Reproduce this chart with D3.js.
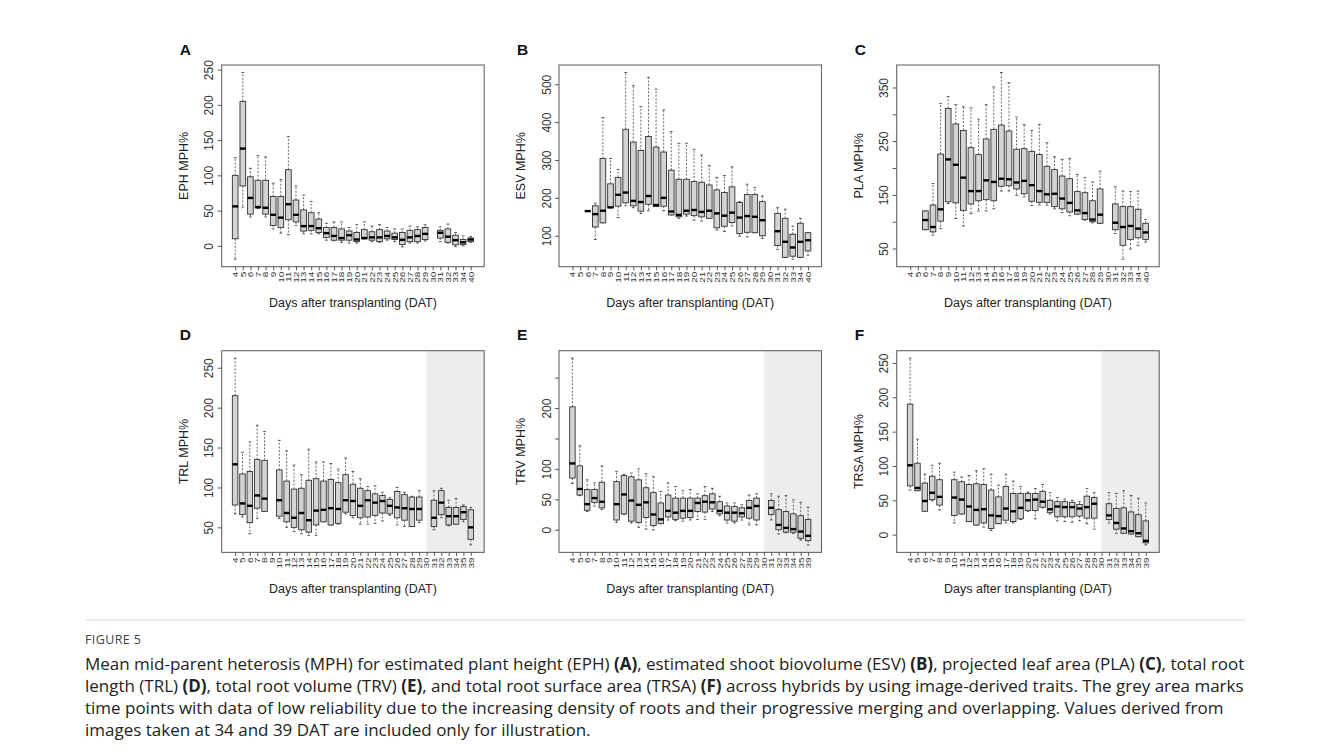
<!DOCTYPE html>
<html>
<head>
<meta charset="utf-8">
<script src="https://cdn.jsdelivr.net/npm/d3@7"></script>
<style>
  body { margin: 0; background: #fff; }
  svg text { font-family: "Liberation Sans", Arial, sans-serif; }
  svg text.cap { font-family: "Open Sans", "Liberation Sans", sans-serif; }
</style>
</head>
<body>
<svg id="fig" width="1330" height="751"></svg>
<script>
// x tick labels (days after transplanting)
const topDays = ["4","5","6","7","8","9","10","11","12","13","14","15","16","17","18","19","20",
  "21","22","23","24","25","26","27","28","29","30","31","32","33","34","40"];
const bottomDays = ["4","5","6","7","8","9","10","11","12","13","14","15","16","17","18","19","20",
  "21","22","23","24","25","26","27","28","29","30","31","32","33","34","35","39"];

// box stats per day: [lower whisker, Q1, median, Q3, upper whisker], null = no data
const eph = [[-19,10,56,100,125],[55,85,138,205,246],[41,45,68,98,110],[53,54,55,93,128],[41,45,54,93,126],
  [24,29,44,70,89],[18,26,40,70,94],[16,37,59,108,155],[29,34,44,65,85],[17,21,28,51,72],[17,22,28,47,63],
  [17,19,25,38,47],[8,12,18,26,32],[7,8,14,26,34],[5,8,11,24,34],[4,8,15,21,26],[4,6,9,19,30],[10,10,11,23,34],
  [6,8,12,20,28],[5,6,12,23,30],[8,10,14,21,26],[6,9,12,18,24],[-1.5,2,8.5,19,24],[4,6,12,22,28],[4,6,14,23,27],
  [7,9,17,26,30],null,[6,11,18.5,22,27],[4,5,13,24,31],[-1,1.5,8,15,19],[0,2,5,9,14],[5,6,9,11,13]];

const esv = [null,null,[165,165,165,165,165],[90,123,157,179,186],[134,134,166,304,412],[174,174,175,237,304],
  [148,178,208,254,275],[179,187,214,381,531],[174,179,192,347,496],[159,165,189,325,441],[166,183,205,362,518],
  [177,177,181,334,487],[166,178,200,321,432],[155,155,164,273,375],[146,150,155,249,344],[152,157,166,249,344],
  [141,153,168,243,328],[139,150,163,241,313],[146,146,166,234,285],[115,121,159,221,254],[111,125,153,214,259],
  [126,135,161,229,282],[99,106,148,188,190],[97,109,152,209,236],[108,108,150,209,227],[93,100,141,190,205],
  null,[64,74,112,159,174],[43,43,84,146,170],[38,46,69,104,125],[43,43,84,133,146],[49,60,88,108,108]];

const pla = [null,null,[85,85,103,120,120],[75,81,90,131,171],[87,101,123,226,320],[134,137,216,311,333],
  [106,135,206,282,318],[92,121,182,270,314],[115,133,157,238,312],[120,139,157,225,291],[120,141,177,254,318],
  [124,139,174,272,351],[157,166,180,280,378],[157,167,179,269,359],[149,161,173,235,295],[146,152,176,236,281],
  [130,138,168,231,270],[131,136,157,225,281],[131,136,151,203,247],[124,128,152,197,221],[117,124,143,185,216],
  [111,118,135,180,218],[114,114,121,156,188],[103,104,116,154,182],[98,100,104,139,174],[97,97,113,161,194],
  null,[78,85,98,133,165],[30,56,90,128,157],[49,67,92,128,156],[56,70,87,123,157],[62,67,80,97,104]];

const trl = [[67,78,129,215,262],[63,66,80,117,144],[42,56,77,120,157],[61,74,90,135,178],[70,70,86,134,170],null,
  [61,64,84,122,159],[50,57,68,108,146],[45,50,62,98,128],[42,47,68,99,116],[40,44,59,109,148],[40,53,71,111,132],
  [57,57,72,108,132],[53,53,74,110,130],[54,55,73,106,123],[67,69,84,116,137],[62,65,83,104,120],[54,62,77,99,111],
  [54,63,84,96,101],[55,65,81,92,102],[58,68,83,90,94],[65,67,77,85,87],[53,62,75,95,100],[51,59,74,91,94],
  [51,51,73,88,89],[56,59,73,88,96],null,[47,51,62,84,96],[62,66,81,96,99],[52,53,64,75,84],[54,54,64,75,86],
  [57,60,69,76,78],[28,35,50,72,75]];

const trv = [[76,85,109,202,282],[56,57,67,105,138],[30,32,42,66,82],[39,45,52,66,77],[33,36,46,78,105],null,
  [12,16,42,79,96],[25,26,58,89,91],[11,14,48,87,93],[4,12,41,82,100],[1,20,45,69,92],[0,7,25,61,87],
  [10,10,17,44,63],[16,21,31,57,77],[15,17,28,52,71],[14,19,31,52,64],[16,20,31,52,66],[17,30,44,52,59],
  [17,29,46,56,71],[30,34,45,59,68],[23,26,31,46,55],[11,16,28,39,44],[11,14,28,38,44],[16,21,27,36,41],
  [8,19,36,48,57],[8,16,39,52,59],null,[16,25,36,48,59],[-7,0,8,33,55],[-5,-4,3,30,56],[-6,-4,1,26,49],
  [-17,-14,-3,23,45],[-25,-18,-10,17,37]];

const trsa = [[65,71,101,190,257],[64,64,68,104,139],[34,34,49,75,88],[49,51,61,85,101],[36,43,55,80,104],null,
  [17,28,54,80,91],[30,30,51,77,84],[19,19,41,73,86],[14,14,36,74,93],[11,17,37,73,96],[6,9,28,65,88],
  [16,16,27,55,72],[17,21,38,70,88],[17,19,34,60,78],[22,23,39,60,70],[34,35,50,60,62],[23,35,51,60,67],
  [39,40,48,63,73],[30,32,37,50,61],[20,26,41,48,54],[19,26,40,48,52],[18,26,40,47,50],[20,27,38,44,48],
  [16,24,40,56,67],[8,24,45,54,61],null,[17,22,28,45,61],[2,8,17,38,60],[2,2,9,39,64],[1,1,5,33,57],
  [-3,-3,2,29,53],[-15,-12,-9,20,46]];

const panels = [
  { letter: "A", ylab: "EPH MPH%",  days: topDays,    stats: eph,  ticks: [0,50,100,150,200,250], shown: [0,50,100,150,200,250], col: 0, row: 0 },
  { letter: "B", ylab: "ESV MPH%",  days: topDays,    stats: esv,  ticks: [100,200,300,400,500],  shown: [100,200,300,400,500],  col: 1, row: 0 },
  { letter: "C", ylab: "PLA MPH%",  days: topDays,    stats: pla,  ticks: [50,100,150,200,250,300,350], shown: [50,150,250,350], col: 2, row: 0 },
  { letter: "D", ylab: "TRL MPH%",  days: bottomDays, stats: trl,  ticks: [50,100,150,200,250], shown: [50,100,150,200,250], col: 0, row: 1, shadeFrom: 27 },
  { letter: "E", ylab: "TRV MPH%",  days: bottomDays, stats: trv,  ticks: [0,50,100,150,200,250], shown: [0,50,100,200], col: 1, row: 1, shadeFrom: 27 },
  { letter: "F", ylab: "TRSA MPH%", days: bottomDays, stats: trsa, ticks: [0,50,100,150,200,250], shown: [0,50,100,150,200,250], col: 2, row: 1, shadeFrom: 27 }
];

const colLeft = [221.7, 559, 896.7];
const rowTop = [65, 350.7];
const W = 262.5, H = 201.7;

const svg = d3.select("#fig");

panels.forEach(p => {
  const n = p.days.length;
  const g = svg.append("g")
    .attr("transform", `translate(${colLeft[p.col]},${rowTop[p.row]})`);

  // R style: positions 1..n, xlim c(0.5, n+0.5), 4% padding on both axes
  const x = d3.scaleLinear()
    .domain([0.5 - 0.04 * n, n + 0.5 + 0.04 * n])
    .range([0, W]);
  const vals = p.stats.filter(s => s).flat();
  const lo = d3.min(vals), hi = d3.max(vals), pad = 0.04 * (hi - lo);
  const y = d3.scaleLinear().domain([lo - pad, hi + pad]).range([H, 0]);

  if (p.shadeFrom) {
    g.append("rect")
      .attr("x", x(p.shadeFrom))
      .attr("y", 0)
      .attr("width", W - x(p.shadeFrom))
      .attr("height", H)
      .attr("fill", "#ededed");
  }

  const bw = 0.75 * (x(2) - x(1));

  const box = g.append("g").selectAll("g")
    .data(p.stats.map((s, i) => ({ s, pos: i + 1 })).filter(d => d.s))
    .enter().append("g")
    .attr("transform", d => `translate(${x(d.pos)},0)`);

  // whiskers
  box.append("line")
    .attr("y1", d => y(d.s[3])).attr("y2", d => y(d.s[4]))
    .attr("stroke", "#444").attr("stroke-width", 0.8).attr("stroke-dasharray", "2,1.6");
  box.append("line")
    .attr("y1", d => y(d.s[1])).attr("y2", d => y(d.s[0]))
    .attr("stroke", "#444").attr("stroke-width", 0.8).attr("stroke-dasharray", "2,1.6");
  // staples
  [0, 4].forEach(k => {
    box.append("line")
      .attr("x1", -bw / 4).attr("x2", bw / 4)
      .attr("y1", d => y(d.s[k])).attr("y2", d => y(d.s[k]))
      .attr("stroke", "#333").attr("stroke-width", 0.8);
  });
  box.append("rect")
    .attr("x", -bw / 2).attr("width", bw)
    .attr("y", d => y(d.s[3]))
    .attr("height", d => Math.max(0.01, y(d.s[1]) - y(d.s[3])))
    .attr("fill", "#d3d3d3").attr("stroke", "#333").attr("stroke-width", 0.9);
  box.append("line")
    .attr("x1", -bw / 2).attr("x2", bw / 2)
    .attr("y1", d => y(d.s[2])).attr("y2", d => y(d.s[2]))
    .attr("stroke", "#000").attr("stroke-width", 2.4);

  // frame
  g.append("rect")
    .attr("width", W).attr("height", H)
    .attr("fill", "none").attr("stroke", "#666").attr("stroke-width", 1.1);

  // y axis
  const ya = g.append("g")
    .call(d3.axisLeft(y).tickValues(p.ticks).tickSize(4)
      .tickFormat(v => p.shown.includes(v) ? v : ""));
  ya.select(".domain").remove();
  ya.selectAll("line").attr("stroke", "#555");
  ya.selectAll("text")
    .attr("x", null).attr("dy", null)
    .attr("transform", "translate(-8.5,0) rotate(-90)")
    .attr("text-anchor", "middle")
    .attr("font-size", 12)
    .attr("fill", "#333");

  // x axis
  const xa = g.append("g")
    .attr("transform", `translate(0,${H})`)
    .call(d3.axisBottom(x).tickValues(d3.range(1, n + 1)).tickSize(3.5)
      .tickFormat(i => p.days[i - 1]));
  xa.select(".domain").remove();
  xa.selectAll("line").attr("stroke", "#555");
  xa.selectAll("text")
    .attr("y", null).attr("dy", "0.35em")
    .attr("transform", "translate(0,5) rotate(-90) scale(1.25,0.85)")
    .attr("text-anchor", "end")
    .attr("font-size", 8)
    .attr("fill", "#333");

  // titles
  g.append("text")
    .attr("x", W / 2).attr("y", H + 40.5)
    .attr("text-anchor", "middle").attr("font-size", 12.5).attr("fill", "#222")
    .text("Days after transplanting (DAT)");
  g.append("text")
    .attr("transform", `translate(-34,${H / 2}) rotate(-90)`)
    .attr("text-anchor", "middle").attr("font-size", 12.5).attr("fill", "#222")
    .text(p.ylab);
  g.append("text")
    .attr("x", -42).attr("y", -10.5)
    .attr("font-size", 15.5).attr("font-weight", "bold").attr("fill", "#111")
    .text(p.letter);
});

// caption
const capX = 85, capW = 1160;
svg.append("line")
  .attr("x1", capX).attr("x2", capX + capW).attr("y1", 620).attr("y2", 620)
  .attr("stroke", "#d6d6d6").attr("stroke-width", 1);
svg.append("text").attr("class", "cap")
  .attr("x", capX).attr("y", 644)
  .attr("font-size", 12.5).attr("fill", "#444").attr("letter-spacing", 0.4)
  .text("FIGURE 5");

const captionLines = [
  [["Mean mid-parent heterosis (MPH) for estimated plant height (EPH) ", 0], ["(A)", 1], [", estimated shoot biovolume (ESV) ", 0], ["(B)", 1], [", projected leaf area (PLA) ", 0], ["(C)", 1], [", total root", 0]],
  [["length (TRL) ", 0], ["(D)", 1], [", total root volume (TRV) ", 0], ["(E)", 1], [", and total root surface area (TRSA) ", 0], ["(F)", 1], [" across hybrids by using image-derived traits. The grey area marks", 0]],
  [["time points with data of low reliability due to the increasing density of roots and their progressive merging and overlapping. Values derived from", 0]],
  [["images taken at 34 and 39 DAT are included only for illustration.", 0]]
];
const capTexts = captionLines.map((parts, li) => {
  const t = svg.append("text").attr("class", "cap")
    .attr("x", capX).attr("y", 670 + li * 22)
    .attr("font-size", 16).attr("fill", "#222");
  parts.forEach(([s, b]) => {
    t.append("tspan").attr("font-weight", b ? "bold" : null).text(s);
  });
  return t;
});
// the first caption line runs the full text width
const w0 = capTexts[0].node().getComputedTextLength();
const fs = 16 * capW / w0;
capTexts.forEach(t => t.attr("font-size", fs));
</script>
</body>
</html>
